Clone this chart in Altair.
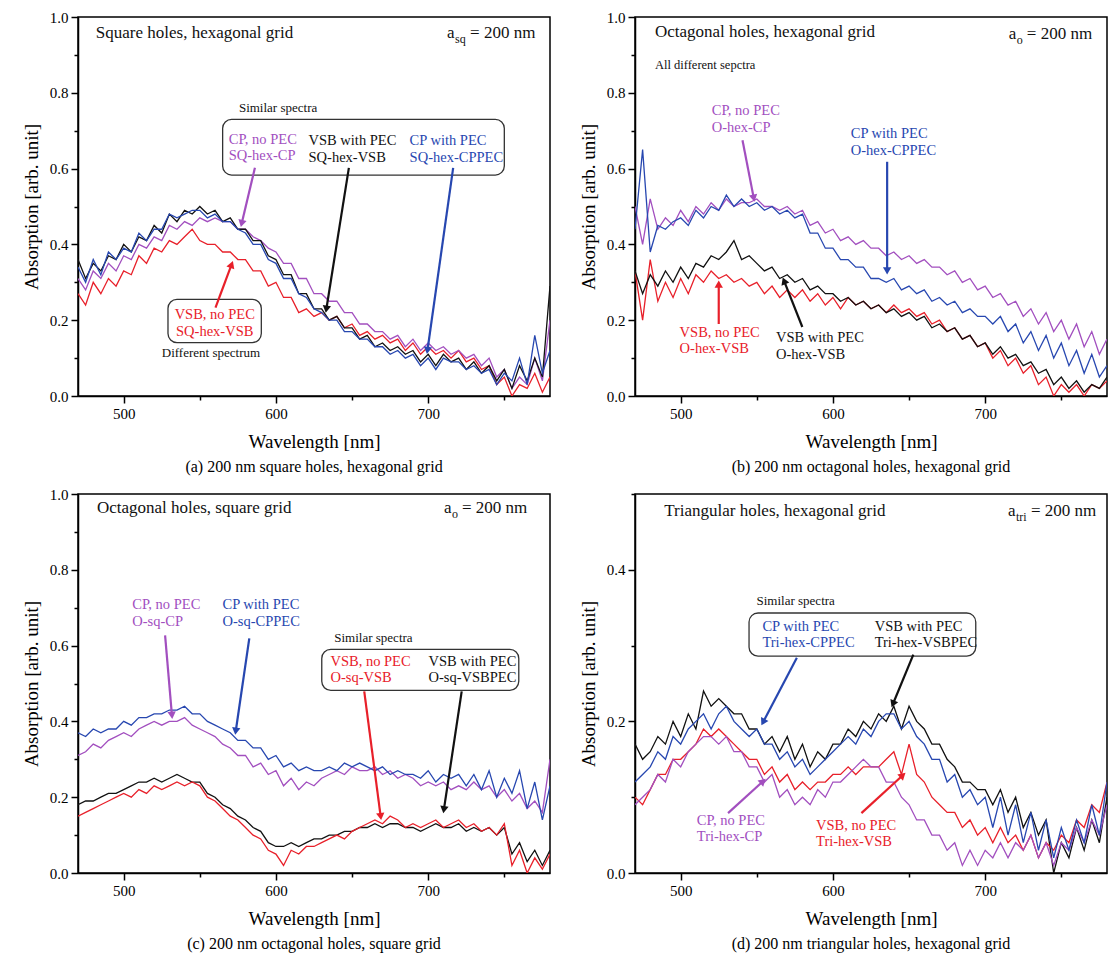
import math
import altair as alt
import pandas as pd

FONT = "Liberation Serif, Times New Roman, serif"
W, H = 472, 379
XMIN, XMAX = 470, 780

BLACK = "#111111"
RED = "#e8202a"
PURPLE = "#a24fbf"
BLUE = "#2747b0"

WL = list(range(470, 781, 5))

# ---------------- panel (a) square holes, hexagonal grid ----------------
A_VSBPEC = [.36, .31, .35, .33, .37, .36, .40, .38, .42, .41,
            .45, .43, .48, .46, .49, .48, .50, .48, .49, .46,
            .47, .44, .44, .41, .41, .37, .36, .32, .32, .27,
            .27, .23, .23, .20, .21, .18, .18, .15, .16, .13,
            .14, .12, .13, .11, .12, .09, .11, .08, .11, .09,
            .10, .07, .09, .06, .08, .04, .07, .02, .08, .04,
            .10, .05, .29]
A_CPPEC = [.34, .30, .36, .32, .38, .36, .39, .38, .43, .41,
           .44, .44, .48, .47, .48, .49, .49, .47, .48, .46,
           .46, .44, .43, .40, .40, .36, .35, .31, .31, .27,
           .26, .23, .22, .20, .20, .17, .17, .15, .15, .13,
           .13, .11, .12, .10, .11, .08, .10, .07, .10, .09,
           .09, .07, .08, .06, .07, .03, .06, .04, .10, .03,
           .16, .06, .12]
A_CP = [.31, .28, .33, .31, .35, .33, .37, .36, .40, .39,
        .42, .41, .45, .44, .46, .45, .47, .46, .47, .46,
        .46, .44, .44, .42, .41, .39, .38, .35, .35, .31,
        .31, .27, .27, .25, .25, .22, .22, .19, .19, .17,
        .17, .15, .16, .13, .15, .12, .14, .12, .13, .11,
        .12, .10, .11, .08, .10, .05, .07, .02, .05, .03,
        .10, .04, .20]
A_VSB = [.27, .24, .30, .27, .31, .29, .33, .32, .37, .35,
         .39, .38, .41, .40, .42, .44, .41, .40, .40, .38,
         .38, .36, .36, .33, .33, .29, .30, .26, .26, .22,
         .23, .21, .22, .20, .21, .18, .19, .16, .17, .15,
         .16, .14, .15, .12, .14, .11, .13, .11, .12, .10,
         .12, .09, .10, .07, .08, .03, .05, .00, .03, .02,
         .06, .01, .05]

# ---------------- panel (b) octagonal holes, hexagonal grid ----------------
B_CP = [.50, .40, .52, .44, .47, .45, .49, .46, .50, .48,
        .51, .49, .52, .50, .51, .51, .52, .50, .50, .49,
        .50, .48, .49, .45, .46, .43, .44, .41, .42, .40,
        .41, .39, .39, .37, .38, .36, .37, .35, .36, .34,
        .34, .32, .33, .30, .31, .28, .29, .26, .27, .24,
        .25, .21, .23, .19, .22, .17, .20, .15, .19, .13,
        .17, .11, .15]
B_CPPEC = [.44, .65, .38, .45, .44, .46, .47, .45, .49, .47,
           .50, .49, .53, .50, .52, .50, .51, .49, .50, .48,
           .49, .47, .48, .43, .43, .39, .39, .36, .36, .34,
           .34, .31, .31, .30, .31, .28, .29, .27, .28, .25,
           .26, .24, .25, .22, .23, .21, .21, .19, .21, .17,
           .19, .14, .17, .12, .16, .10, .14, .08, .12, .06,
           .11, .05, .08]
B_VSBPEC = [.33, .27, .32, .29, .33, .30, .34, .31, .35, .34,
            .37, .36, .38, .41, .36, .37, .35, .33, .34, .31,
            .32, .30, .31, .28, .29, .27, .27, .25, .26, .24,
            .25, .23, .24, .22, .23, .21, .22, .20, .21, .18,
            .19, .17, .18, .15, .16, .13, .14, .11, .13, .10,
            .11, .08, .09, .06, .07, .03, .05, .02, .04, .01,
            .03, .02, .05]
B_VSB = [.33, .20, .36, .25, .30, .26, .31, .27, .32, .30,
         .33, .31, .32, .30, .31, .29, .30, .27, .29, .26,
         .28, .26, .28, .25, .27, .24, .26, .23, .26, .24,
         .25, .23, .24, .22, .24, .22, .23, .21, .22, .19,
         .20, .17, .18, .15, .16, .13, .14, .10, .12, .08,
         .10, .06, .08, .03, .05, .00, .03, .01, .03, .00,
         .03, .02, .04]

# ---------------- panel (c) octagonal holes, square grid ----------------
C_CPPEC = [.37, .36, .38, .37, .38, .38, .40, .39, .41, .41,
           .42, .42, .43, .43, .44, .42, .42, .40, .39, .38,
           .37, .35, .35, .33, .33, .30, .31, .28, .29, .27,
           .28, .27, .27, .28, .27, .29, .28, .29, .28, .27,
           .28, .26, .27, .26, .26, .25, .27, .24, .26, .25,
           .26, .23, .26, .22, .27, .20, .25, .21, .27, .17,
           .24, .14, .23]
C_CP = [.31, .32, .34, .33, .35, .36, .37, .36, .38, .39,
        .40, .39, .40, .40, .41, .39, .38, .37, .36, .34,
        .33, .31, .31, .28, .29, .26, .27, .23, .25, .22,
        .24, .23, .25, .26, .27, .26, .28, .27, .27, .28,
        .26, .27, .25, .26, .25, .23, .24, .23, .24, .22,
        .23, .22, .24, .22, .23, .20, .22, .19, .21, .17,
        .19, .16, .30]
C_VSBPEC = [.18, .19, .19, .20, .21, .21, .22, .23, .24, .24,
            .25, .24, .25, .26, .25, .24, .24, .21, .20, .18,
            .17, .15, .14, .12, .11, .08, .07, .07, .08, .07,
            .08, .09, .09, .10, .10, .11, .11, .12, .12, .13,
            .12, .13, .13, .12, .12, .11, .12, .13, .12, .12,
            .13, .11, .12, .11, .12, .10, .12, .05, .08, .03,
            .06, .02, .06]
C_VSB = [.15, .16, .17, .18, .19, .20, .21, .20, .22, .21,
         .23, .22, .23, .24, .23, .24, .23, .20, .19, .17,
         .15, .14, .12, .10, .09, .06, .05, .02, .06, .05,
         .07, .07, .08, .09, .10, .09, .11, .12, .13, .14,
         .13, .15, .14, .12, .13, .12, .13, .14, .12, .13,
         .14, .12, .13, .11, .12, .10, .13, .02, .06, .00,
         .04, .01, .05]

# ---------------- panel (d) triangular holes, hexagonal grid ----------------
D_VSBPEC = [.17, .15, .16, .18, .17, .20, .18, .21, .19, .24,
            .22, .23, .22, .21, .21, .19, .19, .17, .18, .16,
            .18, .15, .17, .14, .16, .15, .17, .17, .19, .18,
            .20, .19, .21, .20, .22, .19, .22, .20, .19, .17,
            .17, .15, .14, .12, .12, .11, .11, .09, .11, .08,
            .10, .06, .08, .05, .07, .00, .04, .02, .06, .03,
            .07, .04, .10]
D_CPPEC = [.12, .13, .14, .16, .15, .18, .17, .19, .20, .21,
           .19, .21, .22, .20, .19, .18, .19, .17, .17, .15,
           .16, .14, .15, .13, .14, .15, .16, .17, .18, .17,
           .19, .18, .20, .21, .21, .19, .20, .18, .17, .15,
           .15, .12, .13, .10, .11, .09, .10, .06, .10, .05,
           .09, .04, .08, .03, .07, .02, .06, .03, .07, .04,
           .09, .05, .12]
D_CP = [.09, .10, .11, .13, .12, .15, .14, .16, .17, .18,
        .18, .17, .18, .16, .16, .14, .14, .12, .13, .10,
        .11, .09, .10, .09, .11, .10, .12, .12, .13, .14,
        .15, .14, .14, .12, .12, .10, .09, .07, .07, .05,
        .05, .03, .04, .01, .03, .01, .03, .02, .04, .02,
        .04, .03, .05, .02, .04, .01, .04, .03, .06, .04,
        .07, .05, .09]
D_VSB = [.10, .09, .11, .13, .13, .15, .15, .16, .17, .19,
         .18, .19, .18, .17, .16, .15, .15, .13, .14, .12,
         .13, .11, .12, .11, .12, .12, .13, .13, .14, .13,
         .14, .14, .14, .15, .16, .13, .17, .13, .12, .10,
         .09, .08, .08, .06, .07, .05, .06, .04, .06, .04,
         .05, .03, .05, .02, .04, .03, .05, .04, .07, .06,
         .09, .08, .12]

X_TICKS = [500, 550, 600, 650, 700, 750]


def make_panel(series, ymax, texts, boxes, arrows, sub, caption):
    ytick_vals = [round(i * 0.1, 1) for i in range(int(round(ymax * 10)) + 1)]
    xs = alt.Scale(domain=[XMIN, XMAX], nice=False, zero=False)
    ys = alt.Scale(domain=[0, ymax], nice=False)
    ax_x = alt.Axis(
        values=X_TICKS,
        labelExpr="datum.value % 100 == 0 ? datum.label : ''",
        tickSize={"condition": {"test": "datum.value % 100 == 0", "value": 7}, "value": 4},
        title="Wavelength [nm]", format="d", grid=False, labelFlush=False,
        titlePadding=11,
    )
    ax_y = alt.Axis(
        values=ytick_vals,
        labelExpr="round(datum.value*10) % 2 == 0 ? format(datum.value, '.1f') : ''",
        tickSize={"condition": {"test": "round(datum.value*10) % 2 == 0", "value": 7}, "value": 4},
        title="Absorption [arb. unit]", grid=False, labelFlush=False,
    )

    def X(f="x"):
        return alt.X(f + ":Q", scale=xs, axis=ax_x)

    def Y(f="y"):
        return alt.Y(f + ":Q", scale=ys, axis=ax_y)

    layers = []
    for vals, col in series:
        df = pd.DataFrame({"x": WL, "y": vals})
        layers.append(
            alt.Chart(df).mark_line(color=col, strokeWidth=1.3, clip=True).encode(x=X(), y=Y())
        )
    for x1, x2, y1, y2 in boxes:
        df = pd.DataFrame({"x": [x1], "x2": [x2], "y": [y1], "y2": [y2]})
        layers.append(
            alt.Chart(df).mark_rect(fill="white", fillOpacity=0, stroke="#333333",
                                    strokeWidth=1.3, cornerRadius=9)
            .encode(x=X(), x2="x2:Q", y=Y(), y2="y2:Q")
        )
    sx = W / (XMAX - XMIN)
    sy = H / ymax
    for x1, y1, x2, y2, col in arrows:
        ddx = (x2 - x1) * sx
        ddy = -(y2 - y1) * sy
        ang = math.degrees(math.atan2(ddx, -ddy)) % 360
        df = pd.DataFrame({"x": [x1], "y": [y1], "x2": [x2], "y2": [y2]})
        layers.append(
            alt.Chart(df).mark_rule(color=col, strokeWidth=2.2)
            .encode(x=X(), y=Y(), x2="x2:Q", y2="y2:Q")
        )
        dfh = pd.DataFrame({"x": [x2], "y": [y2]})
        layers.append(
            alt.Chart(dfh).mark_point(shape="triangle-up", filled=True, size=70, opacity=1,
                                      color=col, angle=ang)
            .encode(x=X(), y=Y())
        )
    for x, y, t, col, fs, al in texts:
        df = pd.DataFrame({"x": [x], "y": [y], "t": [t]})
        layers.append(
            alt.Chart(df).mark_text(font=FONT, fontSize=fs, color=col, align=al, baseline="middle")
            .encode(x=X(), y=Y(), text="t:N")
        )
    # lattice constant label with subscript
    sx0, sy0, subtxt, subw = sub
    df = pd.DataFrame({"x": [sx0], "y": [sy0], "t": ["a"]})
    layers.append(alt.Chart(df).mark_text(font=FONT, fontSize=17, color=BLACK, align="left",
                                          baseline="middle").encode(x=X(), y=Y(), text="t:N"))
    df = pd.DataFrame({"x": [sx0], "y": [sy0], "t": [subtxt]})
    layers.append(alt.Chart(df).mark_text(font=FONT, fontSize=12, color=BLACK, align="left",
                                          baseline="middle", dx=8, dy=6)
                  .encode(x=X(), y=Y(), text="t:N"))
    df = pd.DataFrame({"x": [sx0], "y": [sy0], "t": ["= 200 nm"]})
    layers.append(alt.Chart(df).mark_text(font=FONT, fontSize=17, color=BLACK, align="left",
                                          baseline="middle", dx=8 + subw + 4)
                  .encode(x=X(), y=Y(), text="t:N"))

    return alt.layer(*layers).properties(
        width=W, height=H,
        title=alt.TitleParams(text=caption, orient="bottom", anchor="middle", offset=8),
    )


panel_a = make_panel(
    [(A_VSB, RED), (A_CP, PURPLE), (A_VSBPEC, BLACK), (A_CPPEC, BLUE)], 1.0,
    [
        (481.7, .957, "Square holes, hexagonal grid", BLACK, 17, "left"),
        (601.4, .761, "Similar spectra", BLACK, 13, "center"),
        (569.0, .675, "CP, no PEC", PURPLE, 14.5, "left"),
        (569.0, .632, "SQ-hex-CP", PURPLE, 14.5, "left"),
        (621.4, .673, "VSB with PEC", BLACK, 14.5, "left"),
        (621.4, .629, "SQ-hex-VSB", BLACK, 14.5, "left"),
        (687.8, .673, "CP with PEC", BLUE, 14.5, "left"),
        (687.8, .629, "SQ-hex-CPPEC", BLUE, 14.5, "left"),
        (559.8, .214, "VSB, no PEC", RED, 14.5, "center"),
        (559.8, .170, "SQ-hex-VSB", RED, 14.5, "center"),
        (557.3, .113, "Different spectrum", BLACK, 13, "center"),
    ],
    [(565.0, 750.0, .583, .730), (529.1, 590.4, .141, .255)],
    [
        (586.2, .602, 577.5, .455, PURPLE),
        (647.9, .602, 633.1, .229, BLACK),
        (716.4, .602, 699.5, .120, BLUE),
        (560.3, .233, 570.9, .347, RED),
    ],
    (712.4, .957, "sq", 11),
    "(a) 200 nm square holes, hexagonal grid",
)

panel_b = make_panel(
    [(B_VSB, RED), (B_VSBPEC, BLACK), (B_CP, PURPLE), (B_CPPEC, BLUE)], 1.0,
    [
        (483.1, .961, "Octagonal holes, hexagonal grid", BLACK, 17, "left"),
        (483.1, .874, "All different sepctra", BLACK, 12.5, "left"),
        (520.4, .751, "CP, no PEC", PURPLE, 14.5, "left"),
        (520.4, .707, "O-hex-CP", PURPLE, 14.5, "left"),
        (611.7, .691, "CP with PEC", BLUE, 14.5, "left"),
        (611.7, .647, "O-hex-CPPEC", BLUE, 14.5, "left"),
        (499.3, .167, "VSB, no PEC", RED, 14.5, "left"),
        (499.3, .125, "O-hex-VSB", RED, 14.5, "left"),
        (562.6, .153, "VSB with PEC", BLACK, 14.5, "left"),
        (562.6, .107, "O-hex-VSB", BLACK, 14.5, "left"),
    ],
    [],
    [
        (540.6, .675, 548.0, .522, PURPLE),
        (635.6, .618, 635.6, .330, BLUE),
        (525.0, .190, 525.0, .295, RED),
        (579.9, .182, 567.9, .304, BLACK),
    ],
    (715.5, .955, "o", 6),
    "(b) 200 nm octagonal holes, hexagonal grid",
)

panel_c = make_panel(
    [(C_CP, PURPLE), (C_CPPEC, BLUE), (C_VSBPEC, BLACK), (C_VSB, RED)], 1.0,
    [
        (482.4, .962, "Octagonal holes, square grid", BLACK, 17, "left"),
        (505.6, .706, "CP, no PEC", PURPLE, 14.5, "left"),
        (505.6, .662, "O-sq-CP", PURPLE, 14.5, "left"),
        (564.9, .706, "CP with PEC", BLUE, 14.5, "left"),
        (564.9, .662, "O-sq-CPPEC", BLUE, 14.5, "left"),
        (638.3, .620, "Similar spectra", BLACK, 13, "left"),
        (635.8, .558, "VSB, no PEC", RED, 14.5, "left"),
        (635.8, .514, "O-sq-VSB", RED, 14.5, "left"),
        (700.2, .558, "VSB with PEC", BLACK, 14.5, "left"),
        (700.2, .514, "O-sq-VSBPEC", BLACK, 14.5, "left"),
    ],
    [(630.1, 759.5, .482, .590)],
    [
        (527.2, .627, 531.7, .416, PURPLE),
        (582.5, .619, 573.6, .374, BLUE),
        (658.0, .479, 668.8, .149, RED),
        (722.0, .479, 710.3, .167, BLACK),
    ],
    (710.4, .962, "o", 6),
    "(c) 200 nm octagonal holes, square grid",
)

panel_d = make_panel(
    [(D_VSBPEC, BLACK), (D_VSB, RED), (D_CP, PURPLE), (D_CPPEC, BLUE)], 0.5,
    [
        (489.2, .478, "Triangular holes, hexagonal grid", BLACK, 17, "left"),
        (549.8, .359, "Similar spectra", BLACK, 13, "left"),
        (553.7, .324, "CP with PEC", BLUE, 14.5, "left"),
        (553.7, .303, "Tri-hex-CPPEC", BLUE, 14.5, "left"),
        (627.4, .324, "VSB with PEC", BLACK, 14.5, "left"),
        (627.4, .303, "Tri-hex-VSBPEC", BLACK, 14.5, "left"),
        (510.6, .068, "CP, no PEC", PURPLE, 14.5, "left"),
        (510.6, .047, "Tri-hex-CP", PURPLE, 14.5, "left"),
        (588.9, .062, "VSB, no PEC", RED, 14.5, "left"),
        (588.9, .041, "Tri-hex-VSB", RED, 14.5, "left"),
    ],
    [(544.9, 693.8, .286, .343)],
    [
        (576.3, .284, 554.1, .199, BLUE),
        (652.8, .288, 639.4, .223, BLACK),
        (531.1, .079, 554.1, .121, PURPLE),
        (618.7, .079, 645.9, .129, RED),
    ],
    (715.0, .478, "tri", 11),
    "(d) 200 nm triangular holes, hexagonal grid",
)

chart = alt.vconcat(
    alt.hconcat(panel_a, panel_b, spacing=27),
    alt.hconcat(panel_c, panel_d, spacing=27),
    spacing=10,
).properties(
    padding={"left": 21, "top": 9, "right": 0, "bottom": 0}
).configure_view(
    stroke="black", strokeWidth=1.5
).configure_axis(
    labelFont=FONT, titleFont=FONT, labelFontSize=15, titleFontSize=19,
    titleFontWeight="normal", labelColor="black", titleColor="black",
    domainColor="black", tickColor="black", domainWidth=1.5, tickWidth=1.5,
    labelPadding=3, titlePadding=8,
).configure_title(
    font=FONT, fontSize=16, fontWeight="normal", color="black"
)

chart.save("out.html", embed_options={"renderer": "svg", "actions": False})
